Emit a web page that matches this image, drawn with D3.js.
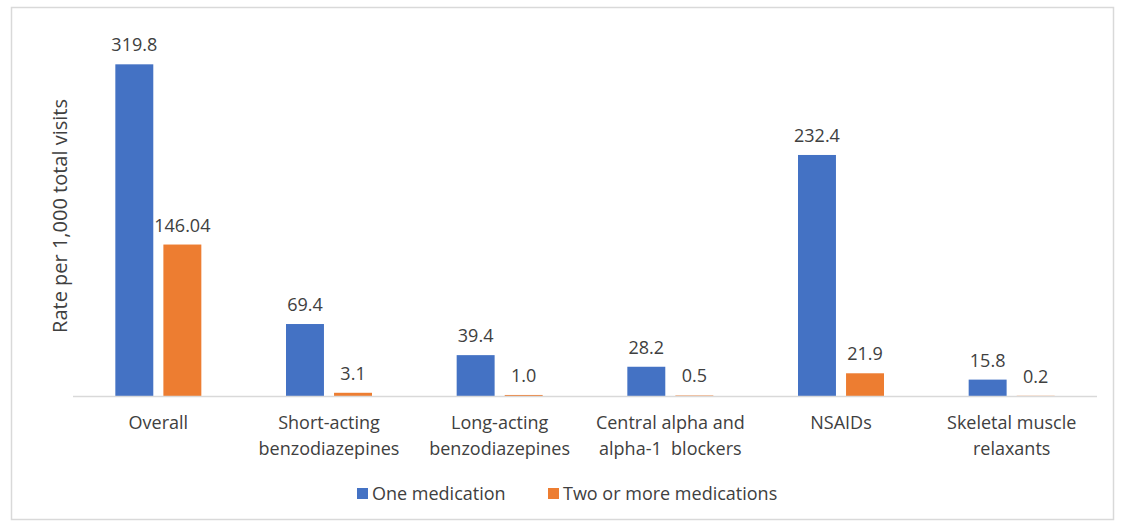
<!DOCTYPE html>
<html>
<head>
<meta charset="utf-8">
<script src="https://cdn.jsdelivr.net/npm/d3@7"></script>
<style>
  body { margin: 0; background: #fff; }
  svg text { font-family: "Open Sans", "Noto Sans", sans-serif; fill: #404040; }
</style>
</head>
<body>
<svg id="chart" width="1127" height="527"></svg>
<script>
// chart data
const categories = [
  ['Overall'],
  ['Short-acting', 'benzodiazepines'],
  ['Long-acting', 'benzodiazepines'],
  ['Central alpha and', 'alpha-1  blockers'],
  ['NSAIDs'],
  ['Skeletal muscle', 'relaxants']
];
const seriesNames = ['One medication', 'Two or more medications'];
const oneMedication = [319.8, 69.4, 39.4, 28.2, 232.4, 15.8];
const twoOrMore = [146.04, 3.1, 1.0, 0.5, 21.9, 0.2];
const valueLabels = [
  ['319.8', '69.4', '39.4', '28.2', '232.4', '15.8'],
  ['146.04', '3.1', '1.0', '0.5', '21.9', '0.2']
];
const colors = ['#4472c4', '#ed7d31'];

const svg = d3.select('#chart');

// outer frame
svg.append('rect')
  .attr('x', 11.5).attr('y', 7.5)
  .attr('width', 1102).attr('height', 512)
  .attr('fill', 'none')
  .attr('stroke', '#d9d9d9')
  .attr('stroke-width', 1.5);

const plot = {left: 73, right: 1097, top: 33, bottom: 396};

const x = d3.scaleBand()
  .domain(d3.range(categories.length))
  .range([plot.left, plot.right]);

const xInner = d3.scaleBand()
  .domain([0, 1])
  .range([0, 86])
  .paddingInner(0.21);

const y = d3.scaleLinear()
  .domain([0, 350])
  .range([plot.bottom, plot.top]);

const series = [oneMedication, twoOrMore];

series.forEach((vals, s) => {
  const g = svg.append('g');
  g.selectAll('rect')
    .data(vals)
    .enter().append('rect')
    .attr('x', (d, i) => x(i) + x.bandwidth() / 2 - 43 + xInner(s))
    .attr('y', d => y(d))
    .attr('width', xInner.bandwidth())
    .attr('height', d => y(0) - y(d))
    .attr('fill', colors[s]);

  g.selectAll('text')
    .data(vals)
    .enter().append('text')
    .attr('x', (d, i) => x(i) + x.bandwidth() / 2 - 43 + xInner(s) + xInner.bandwidth() / 2)
    .attr('y', d => y(d) - 13)
    .attr('text-anchor', 'middle')
    .attr('font-size', 18)
    .text((d, i) => valueLabels[s][i]);
});

// baseline
svg.append('line')
  .attr('x1', plot.left).attr('x2', plot.right)
  .attr('y1', plot.bottom + 0.5).attr('y2', plot.bottom + 0.5)
  .attr('stroke', '#d9d9d9')
  .attr('stroke-width', 1.5);

// category labels
const catG = svg.append('g');
categories.forEach((lines, i) => {
  const t = catG.append('text')
    .attr('x', x(i) + x.bandwidth() / 2)
    .attr('y', 429)
    .attr('text-anchor', 'middle')
    .attr('font-size', 18)
    .style('white-space', 'pre');
  lines.forEach((ln, k) => {
    t.append('tspan')
      .attr('x', x(i) + x.bandwidth() / 2)
      .attr('dy', k === 0 ? 0 : 26)
      .text(ln);
  });
});

// y axis title
svg.append('text')
  .attr('transform', 'translate(67,' + 216 + ') rotate(-90)')
  .attr('text-anchor', 'middle')
  .attr('font-size', 20)
  .text('Rate per 1,000 total visits');

// legend
const legend = svg.append('g');
const legendX = [357, 548];
seriesNames.forEach((name, s) => {
  legend.append('rect')
    .attr('x', legendX[s]).attr('y', 488)
    .attr('width', 11).attr('height', 11)
    .attr('fill', colors[s]);
  legend.append('text')
    .attr('x', legendX[s] + 15).attr('y', 500)
    .attr('font-size', 18)
    .text(name);
});
</script>
</body>
</html>
